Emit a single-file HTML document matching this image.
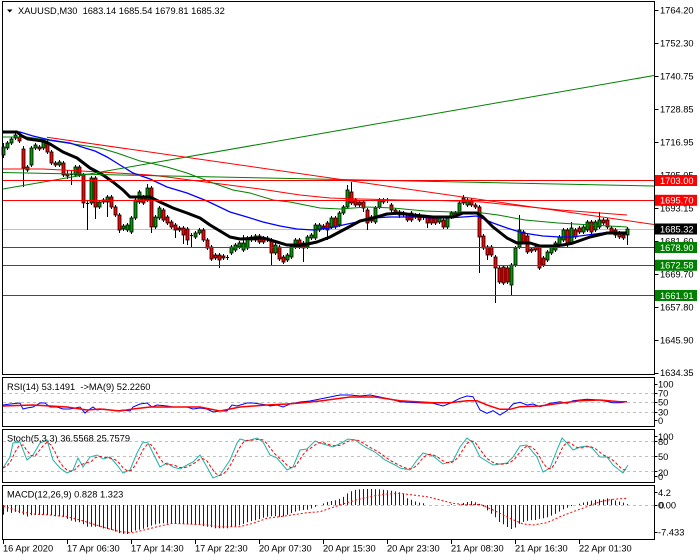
<!DOCTYPE html>
<html><head><meta charset="utf-8">
<style>
html,body{margin:0;padding:0;background:#fff;}
svg{display:block;font-family:"Liberation Sans",Arial,sans-serif;font-size:9.3px;}
text{white-space:pre;}
</style></head><body>
<svg id="c" width="700" height="560" viewBox="0 0 700 560" xmlns="http://www.w3.org/2000/svg">
<rect width="700" height="560" fill="#fff"/>
<!-- level dashed lines -->
<g stroke="#c0c0c0" stroke-width="1" stroke-dasharray="3,3" fill="none">
<path d="M3 393.5H654M3 402.5H654M3 412.5H654"/>
<path d="M3 441.5H654M3 456.5H654M3 471.5H654"/>
<path d="M3 505.5H654"/>
</g>
<!-- bid line -->
<path d="M3 229.5H654" stroke="#c0c0c0" stroke-width="1"/>
<g id="cand"></g>
<g id="mas"></g>
<!-- objects -->
<g fill="none" stroke-width="1">
<path d="M3 189L654 75.5" stroke="#008000"/>
<path d="M3 172.5L654 186" stroke="#008000"/>
<path d="M47 137.3L654 224.5" stroke="#ff0000"/>
<path d="M3 180.5H654M3 200.5H654" stroke="#ff0000"/>
<path d="M3 247.5H654M3 265.5H654M3 295.5H654" stroke="#008000"/>
</g>
<g id="sub"></g>
<!-- frames -->
<g fill="none" stroke="#000" stroke-width="1">
<rect x="2.5" y="1.5" width="652" height="373"/>
<rect x="2.5" y="377.5" width="652" height="49"/>
<rect x="2.5" y="429.5" width="652" height="53"/>
<rect x="2.5" y="485.5" width="652" height="54"/>
<path d="M654.5 10.5h4M654.5 43.5h4M654.5 76.5h4M654.5 109.5h4M654.5 142.5h4M654.5 175.5h4M654.5 208.5h4M654.5 241.5h4M654.5 274.5h4M654.5 307.5h4M654.5 340.5h4M654.5 373.5h4"/>
<path d="M654.5 384.5h3M654.5 393.5h3M654.5 402.5h3M654.5 412.5h3M654.5 420.5h3M654.5 436.5h3M654.5 441.5h3M654.5 456.5h3M654.5 471.5h3M654.5 476.5h3M654.5 492.5h3M654.5 505.5h3M654.5 532.5h3"/>
<path d="M3.5 540V544M67.5 540V544M131.5 540V544M195.5 540V544M259.5 540V544M323.5 540V544M387.5 540V544M451.5 540V544M515.5 540V544M579.5 540V544"/>
</g>
<!-- title -->
<polygon points="7,9.5 12.5,9.5 9.75,12.5" fill="#000"/>
<text x="18" y="14" fill="#000">XAUUSD,M30  1683.14 1685.54 1679.81 1685.32</text>
<text x="7" y="390" fill="#000">RSI(14) 53.1491  -&gt;MA(9) 52.2260</text>
<text x="7" y="441.5" fill="#000">Stoch(5,3,3) 36.5568 25.7579</text>
<text x="7" y="497.7" fill="#000">MACD(12,26,9) 0.828 1.323</text>
<!-- price axis -->
<g fill="#000">
<text x="660" y="13.4">1764.20</text>
<text x="660" y="46.4">1752.30</text>
<text x="660" y="79.4">1740.75</text>
<text x="660" y="112.4">1728.85</text>
<text x="660" y="145.4">1716.95</text>
<text x="660" y="178.4">1705.05</text>
<text x="660" y="211.4">1693.15</text>
<text x="660" y="244.4">1681.60</text>
<text x="660" y="277.4">1669.70</text>
<text x="660" y="310.4">1657.80</text>
<text x="660" y="343.4">1645.90</text>
<text x="660" y="376.2">1634.35</text>
</g>
<!-- boxes -->
<rect x="655" y="175" width="42" height="11" fill="#ff0000"/>
<rect x="655" y="194.8" width="42" height="11" fill="#ff0000"/>
<rect x="655" y="223.5" width="42" height="11" fill="#000"/>
<rect x="655" y="242" width="42" height="11" fill="#008000"/>
<rect x="655" y="259.8" width="42" height="11" fill="#008000"/>
<rect x="655" y="290" width="42" height="11" fill="#008000"/>
<g fill="#fff">
<text x="660" y="183.9">1703.00</text>
<text x="660" y="203.7">1695.70</text>
<text x="660" y="232.4">1685.32</text>
<text x="660" y="250.9">1678.90</text>
<text x="660" y="268.7">1672.58</text>
<text x="660" y="298.9">1661.91</text>
</g>
<!-- sub labels -->
<g fill="#000">
<text x="658" y="387.7">100</text>
<text x="658" y="396.7">70</text>
<text x="658" y="405.7">50</text>
<text x="658" y="415.7">30</text>
<text x="658" y="424.1">0</text>
<text x="658" y="440.1">100</text>
<text x="658" y="445.1">80</text>
<text x="658" y="460.1">50</text>
<text x="658" y="476.1">20</text>
<text x="658" y="480.1">0</text>
<text x="658" y="496.1">4.2</text>
<text x="658" y="508.4">0.00</text>
<text x="659" y="508.4">0</text>
<text x="658" y="535.7">-7.433</text>
</g>
<!-- time axis -->
<g fill="#000">
<text x="3" y="551.5">16 Apr 2020</text>
<text x="67" y="551.5">17 Apr 06:30</text>
<text x="131" y="551.5">17 Apr 14:30</text>
<text x="195" y="551.5">17 Apr 22:30</text>
<text x="259" y="551.5">20 Apr 07:30</text>
<text x="323" y="551.5">20 Apr 15:30</text>
<text x="387" y="551.5">20 Apr 23:30</text>
<text x="451" y="551.5">21 Apr 08:30</text>
<text x="515" y="551.5">21 Apr 16:30</text>
<text x="579" y="551.5">22 Apr 01:30</text>
</g>
</svg>
<script>
(function(){
var NS='http://www.w3.org/2000/svg';
function el(tag,a,p){var e=document.createElementNS(NS,tag);for(var k in a)e.setAttribute(k,a[k]);p.appendChild(e);return e;}
function ip(P,x){if(x<=P[0][0])return P[0][1];for(var i=1;i<P.length;i++){if(x<=P[i][0]){var a=P[i-1],b=P[i];return a[1]+(b[1]-a[1])*(x-a[0])/(b[0]-a[0]);}}return P[P.length-1][1];}
function pl(P,a,p){a.points=P.map(function(q){return q[0]+','+q[1];}).join(' ');a.fill='none';el('polyline',a,p);}
var gc=document.getElementById('cand'),gm=document.getElementById('mas'),gs=document.getElementById('sub');
var C=[
[155,147,143,158],[148,143],[143,139],[138,135,133],[137,141],[149,168,146,187],[170,167],[165,148],[148,145],[147,149],
[148,140],[142,152],[152,163],[163,165],[165,162],[163,175],[174,176,170,179],[175,174,171,185],[175,167],[167,175],
[175,203,173,208],[203,204,200,230],[203,178],[178,207,176,219],[207,202],[202,200],[202,197,195,217],[197,207],[207,215],[215,230,213,233],
[229,226],[230,225],[232,218],[218,200],[202,192],[197,203],[200,188,184,202],[188,227,186,233],[227,217],[218,208],
[210,220],[217,223],[222,227],[225,230,223,238],[228,230],[228,235,226,244],[229,240,227,245],[235,236,233,247],[237,233],[233,230],
[230,240],[240,248],[247,259],[255,258],[255,260,253,268],[256,258],[257,258],[253,247],[250,245],[247,243],
[250,243,235,252],[248,238],[237,240],[240,236],[236,242],[238,242],[238,240],[240,253,238,265],[253,245],[247,259],
[257,262],[260,255],[257,247],[247,240],[240,247],[243,248,241,262],[247,237],[238,235],[238,225],[230,225],
[226,228],[223,230,221,240],[227,218],[218,227],[225,213],[213,207],[207,190,185,209],[192,203,182,205],[200,205],[202,205],
[202,208,200,212],[210,223,208,230],[217,221],[222,208],[207,200],[200,202],[201,200],[205,210],[210,213],[212,215,210,218],
[213,215],[215,220],[213,220],[215,217],[215,220],[217,218],[217,223,215,228],[218,223],[218,223],[222,218],
[220,227],[227,218],[217,213],[213,216],[213,203],[198,203,195,205],[205,200],[200,205],[205,207],[207,237,205,273],
[236,248],[247,255,245,260],[247,255],[257,268,255,303],[268,282],[267,283],[268,282],[285,265,263,295],[265,248],[247,230,215,249],
[232,242],[236,252],[249,251],[247,250],[247,268],[258,265],[260,252],[253,247],[250,243],[245,237],
[240,230],[230,245],[243,228,222,245],[230,237],[228,232],[232,227],[230,222],[222,232],[230,222],[227,220,212,229],
[220,223],[220,227],[228,232],[230,235,228,238],[233,237],[235,238],[235,229,227,245]];
var wk='';
C.forEach(function(c,i){var x=3+4*i,o=c[0],k=c[1],t=Math.min(o,k),b=Math.max(o,k),h=c.length>2?c[2]:t-2,l=c.length>3?c[3]:b+2;
wk+='M'+(x+.5)+' '+h+'V'+l;if(b-t<1.5){wk+='M'+(x-1)+' '+(t+.5)+'h3';}});
el('path',{d:wk,stroke:'#000','stroke-width':1,fill:'none'},gc);
C.forEach(function(c,i){var x=3+4*i,o=c[0],k=c[1],t=Math.min(o,k),b=Math.max(o,k);
if(b-t>=1.5){el('rect',{x:x-1,y:t,width:3,height:b-t,fill:k<o?'#009900':'#ff0000',stroke:'#000','stroke-width':.8},gc);}});
var RM=[[3,169],[43,169],[100,172],[150,175],[167,177],[213,183],[260,189],[300,195],[330,198],[360,199],[400,200],[440,200.5],[482,202],[520,206],[560,210],[600,213],[627,215]];
var GM=[[3,137],[27,137],[47,140],[60,142],[80,145],[100,148],[117,153],[140,161],[150,163],[167,167],[187,173],[213,183],[233,190],[250,193],[273,200],[290,202],[320,208],[340,209],[367,207],[393,208],[425,211],[452,212],[475,212],[498,215],[525,220],[558,223],[592,225],[627,227]];
var BM=[[3,131],[20,132],[33,136],[50,140],[70,143],[85,148],[95,151],[107,157],[120,165],[133,173],[150,179],[167,187],[187,193],[207,201],[230,212],[247,217],[263,222],[280,226],[297,229],[313,230],[330,228],[343,225],[357,222],[373,218],[390,217],[413,217],[433,218],[447,218],[463,217],[477,216],[493,223],[507,228],[523,233],[543,236],[560,237],[573,237],[587,235],[603,233],[627,232]];
var KM=[[3,132],[17,132],[22,136],[28,139],[43,141],[50,144],[63,152],[77,158],[90,168],[103,175],[113,182],[123,190],[130,197],[150,197],[160,202],[173,208],[187,213],[200,218],[210,225],[230,237],[240,239],[263,238],[277,242],[287,245],[303,245],[317,242],[330,237],[347,228],[360,221],[373,218],[387,214],[400,213],[413,215],[433,217],[453,217],[463,213],[477,213],[483,217],[493,227],[507,238],[517,243],[530,243],[540,246],[553,246],[563,245],[573,243],[590,237],[607,233],[627,233]];
pl(RM,{stroke:'#ff0000','stroke-width':1},gm);
pl(GM,{stroke:'#008000','stroke-width':1},gm);
pl(BM,{stroke:'#0000ff','stroke-width':1.3},gm);
pl(KM,{stroke:'#000','stroke-width':3,'stroke-linejoin':'round'},gm);
/* RSI */
var RB=[[3,405],[10,404],[20,403],[23,409],[27,408],[33,407],[40,403],[45,403],[50,407],[57,407],[63,409],[70,409],[80,407],[85,413],[90,409],[93,407],[97,410],[103,409],[110,410],[117,411],[123,410],[130,411],[133,407],[140,404],[147,403],[152,407],[157,405],[167,406],[173,407],[180,407],[187,407],[193,409],[200,408],[207,409],[213,412],[220,411],[227,411],[232,405],[237,406],[247,403],[253,403],[260,404],[267,405],[270,406],[277,405],[283,407],[290,404],[300,402],[310,401],[320,399],[330,397],[340,395],[350,395],[360,396],[370,395],[380,397],[390,399],[400,401.7],[417,402.7],[433,403.3],[443,406],[450,403.3],[460,398.3],[467,396],[473,396.7],[480,410],[487,413.3],[493,410.7],[500,415],[507,410.7],[513,404],[520,402.3],[527,405],[533,404],[540,406.7],[550,403.3],[560,401.7],[567,403.3],[573,400.7],[587,399.3],[600,400],[613,402.7],[620,402.7],[627,401.7]];
var RR=[[3,406],[33,405],[67,407],[87,410],[100,409],[120,411],[133,409],[150,407],[200,407],[220,411],[240,407],[267,405],[287,404],[300,403],[320,401],[350,397],[375,397],[400,400.7],[433,402.7],[450,402.7],[467,400.7],[477,400.7],[487,405],[500,409.3],[510,409.3],[520,406.7],[540,406],[560,403.3],[580,400.7],[600,400],[620,401.7],[627,401.7]];
pl(RB,{stroke:'#0000ff','stroke-width':1},gs);
pl(RR,{stroke:'#ff0000','stroke-width':1.5},gs);
/* Stoch */
var ST=[[3,468],[10,457],[13,443],[20,442],[27,460],[33,455],[40,443],[47,440],[53,460],[60,468],[67,473],[73,470],[78,458],[83,467],[90,457],[97,455],[103,459],[110,457],[117,465],[123,473],[130,470],[137,453],[143,442],[148,443],[153,453],[160,467],[167,463],[173,467],[180,469],[187,465],[193,462],[200,455],[207,467],[213,478],[220,475],[230,460],[237,443],[240,439],[247,441],[257,438],[263,442],[270,455],[277,458],[287,470],[293,467],[300,450],[307,449],[315,441],[320,443],[333,447],[343,442],[348,439],[355,440],[365,447],[375,452],[385,460],[395,465],[400,468],[410,470],[417,460],[423,453],[433,456],[443,464],[453,461],[460,447],[467,438],[473,443],[480,457],[493,465],[507,463],[513,457],[520,446],[527,445],[537,457],[543,472],[550,468],[557,450],[562,438],[567,443],[573,450],[580,447],[587,446],[592,448],[600,457],[607,457],[613,465],[623,473],[628,465]];
pl(ST,{stroke:'#20b2aa','stroke-width':1},gs);
var K=[],D=[],i;
for(i=0;i<157;i++)K.push(ip(ST,3+4*i));
for(i=0;i<157;i++){var a=K[Math.max(0,i-2)],b=K[Math.max(0,i-1)],c=K[i];D.push([3+4*i,((a+b+c)/3).toFixed(1)]);}
pl(D,{stroke:'#ff0000','stroke-width':1,'stroke-dasharray':'3,2'},gs);
/* MACD */
var H=[[3,515],[7,511.7],[12,513],[16,511.7],[20,513.3],[24,515],[28,516.7],[32,515],[50,515],[57,516.7],[62,516],[66,518.3],[70,520],[74,521.7],[78,521.7],[82,523.3],[87,526.7],[95,526.7],[99,526.7],[103,528.3],[107,529],[112,530],[116,531.7],[120,533.3],[124,534],[128,534],[132,531.7],[137,530],[141,529.3],[145,528.3],[149,526.7],[153,525],[157,524],[162,523.3],[166,523.3],[170,524],[190,524],[195,525],[199,524],[203,526],[207,526.7],[212,527.3],[216,528.3],[228,528.3],[232,526.7],[237,526],[241,525],[245,523.3],[249,521.7],[253,520.7],[257,520],[262,518.3],[266,516.7],[270,516.7],[274,515.7],[278,516.7],[283,516.7],[287,515],[291,513.3],[295,511.7],[299,510.7],[303,510],[307,510],[312,508.3],[316,506.7],[320,505],[324,503.3],[328,501.7],[333,500.7],[337,500],[341,498.3],[345,496],[349,492],[355,490],[362,489],[372,489],[382,489.5],[390,490.5],[399,492],[403,493.3],[407,498],[412,500],[416,501.7],[420,502.7],[424,503.3],[428,505],[447,505],[450,504],[458,505],[463,503],[467,502.3],[470,500.7],[474,501.7],[478,503.3],[482,505],[487,510],[491,513.3],[495,516.7],[499,521.7],[503,524],[507,526.7],[512,529.3],[516,527.3],[520,523.3],[524,521.7],[528,520.7],[532,520],[537,520],[541,518.3],[545,518.3],[549,516.7],[553,515],[557,513.3],[562,510],[566,508.3],[570,506.7],[574,505],[578,504.3],[582,502.7],[587,502],[591,500.7],[595,500],[599,499.3],[603,499.3],[607,498.3],[612,499.3],[616,500.7],[620,501.7],[624,502.7],[628,504.3]];
var hp='';
for(i=0;i<157;i++){var x=3+4*i+.5,y=ip(H,x);if(Math.abs(y-505)>0.6)hp+='M'+x+' 505V'+y.toFixed(1);}
el('path',{d:hp,stroke:'#0000ff','stroke-width':1,fill:'none'},gs);
var SG=[[3,506],[20,511.7],[33,514],[50,515],[67,516.7],[80,520],[93,524],[107,528.3],[120,531.7],[133,532.7],[147,529.3],[160,526],[173,523.3],[187,524],[207,525],[220,526.7],[240,526.7],[253,523.3],[267,518.3],[287,515.7],[307,512.7],[320,511.7],[333,507.3],[347,502.7],[360,499],[373,496],[387,494],[400,493.3],[413,495],[427,496.7],[440,500],[453,503.3],[467,505],[480,504.3],[493,510],[510,518.3],[523,524],[533,525],[547,522.7],[560,516.7],[573,511.7],[587,506.7],[600,501.7],[613,499.3],[627,498.3]];
pl(SG,{stroke:'#ff0000','stroke-width':1,'stroke-dasharray':'2,2'},gs);
})();
</script>
</body></html>
